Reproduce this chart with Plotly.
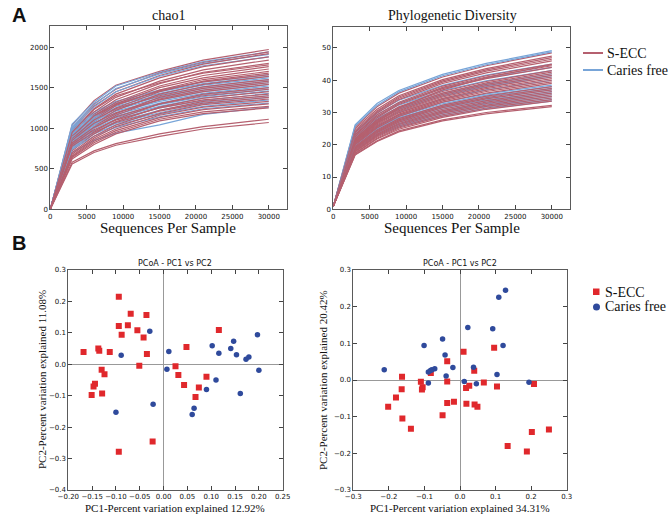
import plotly.graph_objects as go

# ---------------- data ----------------
depths = [10, 3000, 6000, 9000, 15000, 21000, 30000]

chao1_secc = [
    [5, 1040, 1340, 1530, 1700, 1840, 1970],
    [5, 1000, 1300, 1480, 1680, 1810, 1940],
    [5, 980, 1270, 1450, 1650, 1790, 1920],
    [5, 960, 1240, 1420, 1620, 1760, 1880],
    [5, 930, 1200, 1380, 1580, 1720, 1840],
    [5, 900, 1170, 1350, 1550, 1690, 1800],
    [5, 880, 1150, 1320, 1520, 1650, 1760],
    [5, 860, 1120, 1300, 1500, 1620, 1730],
    [5, 850, 1100, 1280, 1470, 1600, 1700],
    [5, 820, 1080, 1250, 1450, 1580, 1680],
    [5, 900, 1150, 1290, 1460, 1570, 1660],
    [5, 800, 1050, 1220, 1420, 1540, 1640],
    [5, 870, 1100, 1240, 1400, 1510, 1600],
    [5, 780, 1020, 1180, 1380, 1490, 1580],
    [5, 760, 1000, 1160, 1360, 1470, 1560],
    [5, 850, 1060, 1190, 1350, 1450, 1540],
    [5, 740, 960, 1110, 1300, 1420, 1500],
    [5, 820, 1010, 1140, 1300, 1400, 1480],
    [5, 720, 930, 1080, 1260, 1370, 1450],
    [5, 800, 980, 1100, 1250, 1350, 1420],
    [5, 700, 900, 1040, 1220, 1330, 1400],
    [5, 780, 950, 1070, 1210, 1310, 1380],
    [5, 680, 880, 1020, 1180, 1290, 1360],
    [5, 660, 860, 990, 1160, 1260, 1330],
    [5, 650, 840, 970, 1130, 1230, 1300],
    [5, 640, 820, 950, 1110, 1200, 1270],
    [5, 620, 800, 930, 1090, 1180, 1250],
    [5, 580, 720, 810, 930, 1020, 1110],
    [5, 560, 700, 790, 900, 990, 1070],
    [5, 950, 1230, 1400, 1560, 1680, 1780],
]
chao1_cf = [
    [5, 1050, 1320, 1520, 1690, 1820, 1940],
    [5, 1020, 1290, 1490, 1670, 1800, 1910],
    [5, 1000, 1260, 1450, 1640, 1770, 1880],
    [5, 1000, 1200, 1330, 1470, 1570, 1660],
    [5, 980, 1180, 1310, 1450, 1550, 1640],
    [5, 960, 1160, 1290, 1430, 1530, 1620],
    [5, 940, 1140, 1270, 1410, 1510, 1600],
    [5, 930, 1130, 1250, 1390, 1490, 1580],
    [5, 920, 1110, 1230, 1370, 1470, 1560],
    [5, 900, 1090, 1210, 1350, 1450, 1540],
    [5, 890, 1070, 1190, 1330, 1430, 1520],
    [5, 870, 1050, 1170, 1310, 1410, 1500],
    [5, 860, 1040, 1150, 1290, 1390, 1480],
    [5, 840, 1020, 1130, 1270, 1370, 1460],
    [5, 820, 1000, 1110, 1250, 1340, 1430],
    [5, 800, 970, 1080, 1220, 1320, 1400],
    [5, 780, 950, 1060, 1190, 1300, 1380],
    [5, 760, 930, 1040, 1170, 1270, 1350],
    [5, 740, 900, 1010, 1140, 1240, 1310],
    [5, 700, 850, 940, 1040, 1170, 1260],
]

pd_secc = [
    [1, 25.5, 31.8, 36.0, 41.0, 44.5, 48.5],
    [1, 25.0, 31.0, 35.2, 40.2, 43.6, 47.5],
    [1, 24.5, 30.5, 34.8, 39.8, 43.2, 47.0],
    [1, 24.0, 30.2, 34.4, 39.4, 42.8, 46.5],
    [1, 23.8, 29.8, 34.0, 39.0, 42.3, 46.0],
    [1, 23.2, 29.2, 33.2, 38.2, 41.4, 45.0],
    [1, 23.0, 28.8, 32.8, 37.8, 41.0, 44.5],
    [1, 22.5, 28.4, 32.5, 37.4, 40.5, 44.0],
    [1, 22.0, 27.8, 31.8, 36.5, 39.6, 43.0],
    [1, 21.8, 27.5, 31.4, 36.0, 39.2, 42.5],
    [1, 21.5, 27.2, 31.0, 35.6, 38.7, 42.0],
    [1, 21.2, 26.8, 30.6, 35.2, 38.3, 41.5],
    [1, 21.0, 26.5, 30.3, 34.8, 37.8, 41.0],
    [1, 20.8, 26.2, 29.9, 34.4, 37.4, 40.5],
    [1, 20.5, 25.8, 29.5, 34.0, 36.9, 40.0],
    [1, 20.2, 25.5, 29.2, 33.6, 36.5, 39.5],
    [1, 20.0, 25.2, 28.8, 33.2, 36.0, 39.0],
    [1, 19.5, 24.6, 28.1, 32.3, 35.1, 38.0],
    [1, 19.2, 24.3, 27.7, 31.9, 34.6, 37.5],
    [1, 19.0, 24.0, 27.4, 31.5, 34.2, 37.0],
    [1, 18.8, 23.7, 27.0, 31.0, 33.7, 36.5],
    [1, 18.5, 23.3, 26.6, 30.6, 33.2, 36.0],
    [1, 18.2, 23.0, 26.3, 30.2, 32.8, 35.5],
    [1, 18.0, 22.7, 25.9, 29.8, 32.3, 35.0],
    [1, 17.8, 22.4, 25.5, 29.3, 31.9, 34.5],
    [1, 17.5, 22.0, 25.2, 28.9, 31.4, 34.0],
    [1, 17.3, 21.8, 24.8, 28.5, 31.0, 33.5],
    [1, 17.0, 21.2, 24.3, 27.7, 30.0, 32.2],
    [1, 16.8, 21.0, 24.0, 27.4, 29.6, 31.8],
    [1, 21.0, 27.0, 31.5, 37.0, 40.8, 44.8],
]
pd_cf = [
    [1, 26.2, 32.8, 36.8, 41.8, 45.2, 49.2],
    [1, 25.8, 32.2, 36.4, 41.4, 44.8, 48.8],
    [1, 24.0, 30.0, 33.8, 38.4, 41.6, 45.0],
    [1, 23.6, 29.4, 33.0, 37.6, 40.7, 44.0],
    [1, 23.0, 28.8, 32.3, 36.8, 39.8, 43.0],
    [1, 22.6, 28.2, 31.6, 36.0, 38.9, 42.0],
    [1, 22.4, 27.8, 31.2, 35.5, 38.4, 41.5],
    [1, 22.0, 27.5, 30.9, 35.1, 38.0, 41.0],
    [1, 21.6, 26.8, 30.1, 34.2, 37.0, 40.0],
    [1, 21.0, 26.0, 29.2, 33.1, 35.8, 38.5],
    [1, 20.8, 25.7, 28.8, 32.7, 35.4, 38.0],
    [1, 20.5, 25.3, 28.4, 32.2, 34.9, 37.5],
    [1, 20.3, 25.0, 28.1, 31.8, 34.4, 37.0],
    [1, 20.0, 24.7, 27.7, 31.4, 33.9, 36.5],
    [1, 19.8, 24.4, 27.3, 31.0, 33.5, 36.0],
    [1, 19.5, 24.0, 26.9, 30.5, 33.0, 35.5],
    [1, 19.3, 23.7, 26.5, 30.1, 32.6, 35.0],
    [1, 19.0, 23.4, 26.2, 29.7, 32.1, 34.5],
    [1, 18.8, 23.1, 25.8, 29.3, 31.7, 34.0],
    [1, 18.5, 22.8, 25.5, 28.9, 31.2, 33.5],
]

# PCoA (left)
pcoa1_secc_x = [-0.168, -0.094, -0.069, -0.094, -0.075, -0.036, -0.088, -0.055, -0.042, -0.137,
                -0.135, -0.113, -0.035, -0.051, -0.130, -0.124, -0.144, -0.147, -0.151, -0.129,
                -0.094, -0.023, 0.116, 0.048, 0.025, 0.031, 0.043, 0.074, 0.067, 0.090]
pcoa1_secc_y = [0.039, 0.215, 0.161, 0.122, 0.124, 0.157, 0.094, 0.108, 0.085, 0.050,
                0.043, 0.039, 0.033, -0.005, -0.017, -0.032, -0.062, -0.071, -0.098, -0.093,
                -0.278, -0.246, 0.109, 0.055, -0.006, -0.034, -0.066, -0.074, -0.104, -0.040]
pcoa1_cf_x = [-0.029, -0.089, -0.100, -0.022, 0.011, 0.007, 0.102, 0.116, 0.147, 0.141,
              0.153, 0.173, 0.179, 0.197, 0.200, 0.110, 0.090, 0.161, 0.064, 0.060]
pcoa1_cf_y = [0.105, 0.029, -0.153, -0.127, 0.041, -0.016, 0.059, 0.035, 0.073, 0.050,
              0.030, 0.016, 0.023, 0.094, -0.019, -0.050, -0.080, -0.093, -0.140, -0.160]

# PCoA (right)
pcoa2_secc_x = [-0.163, -0.164, -0.180, -0.202, -0.162, -0.138, -0.110, -0.105, -0.107, -0.082,
                -0.036, -0.036, -0.036, -0.017, -0.049, 0.010, 0.040, 0.017, 0.026, 0.067,
                0.018, 0.041, 0.049, 0.096, 0.104, 0.208, 0.202, 0.250, 0.134, 0.188]
pcoa2_secc_y = [0.009, -0.025, -0.048, -0.073, -0.105, -0.133, -0.005, -0.020, -0.026, 0.019,
                0.051, -0.004, -0.063, -0.059, -0.096, 0.077, 0.025, -0.022, -0.016, -0.007,
                -0.065, -0.067, -0.073, 0.088, -0.018, -0.011, -0.142, -0.135, -0.180, -0.195]
pcoa2_cf_x = [-0.213, -0.101, -0.049, -0.042, -0.089, -0.083, -0.079, -0.071, -0.089, -0.039,
              -0.020, 0.022, 0.092, 0.109, 0.128, 0.121, 0.038, 0.012, 0.046, 0.104, 0.194]
pcoa2_cf_y = [0.028, 0.094, 0.112, 0.068, 0.022, 0.026, 0.028, 0.031, -0.008, 0.011,
              0.034, 0.143, 0.140, 0.226, 0.245, 0.094, 0.035, -0.004, -0.010, 0.015, -0.006]

group_names = ["S-ECC", "Caries free"]
rare_ticks_x = [0, 5000, 10000, 15000, 20000, 25000, 30000]

# ---------------- style ----------------
RED_LINE = "#b5606f"
BLUE_LINE = "#78a5d8"
RED_PT = "#e0282c"
BLUE_PT = "#2f4a9c"
SERIF = "Liberation Serif"
SANS = "DejaVu Sans"
W, H = 668, 519


def px_x(p):
    return p / W


def px_y(p):
    return 1 - p / H


fig = go.Figure()

# rarefaction curves, interleaved
for xa, ya, secc, cf in [("x", "y", chao1_secc, chao1_cf), ("x2", "y2", pd_secc, pd_cf)]:
    n = max(len(secc), len(cf))
    for i in range(n):
        if i < len(secc):
            fig.add_trace(go.Scatter(
                x=depths, y=secc[i], xaxis=xa, yaxis=ya, mode="lines",
                line=dict(color=RED_LINE, width=1.2), name=group_names[0],
                hoverinfo="skip"))
        if i < len(cf):
            fig.add_trace(go.Scatter(
                x=depths, y=cf[i], xaxis=xa, yaxis=ya, mode="lines",
                line=dict(color=BLUE_LINE, width=1.2), name=group_names[1],
                hoverinfo="skip"))

# PCoA scatter
for xa, ya, sx, sy, cx, cy in [
        ("x3", "y3", pcoa1_secc_x, pcoa1_secc_y, pcoa1_cf_x, pcoa1_cf_y),
        ("x4", "y4", pcoa2_secc_x, pcoa2_secc_y, pcoa2_cf_x, pcoa2_cf_y)]:
    fig.add_trace(go.Scatter(
        x=sx, y=sy, xaxis=xa, yaxis=ya, mode="markers", name=group_names[0],
        marker=dict(symbol="square", size=6, color=RED_PT, line=dict(width=0))))
    fig.add_trace(go.Scatter(
        x=cx, y=cy, xaxis=xa, yaxis=ya, mode="markers", name=group_names[1],
        marker=dict(symbol="circle", size=5.5, color=BLUE_PT, line=dict(width=0))))

axis_common = dict(showline=True, linecolor="#5a5a5a", linewidth=1, mirror="ticks",
                   ticks="inside", ticklen=4, tickcolor="#444444", showgrid=False,
                   tickangle=0,
                   tickfont=dict(family=SANS, size=7, color="#111111"))

fig.update_layout(
    width=W, height=H, margin=dict(l=0, r=0, t=0, b=0, autoexpand=False),
    paper_bgcolor="white", plot_bgcolor="white", showlegend=False,
    xaxis=dict(axis_common, domain=[px_x(50.3), px_x(287)], range=[0, 32500],
               tickvals=rare_ticks_x, tickformat="d", zeroline=False, anchor="y"),
    yaxis=dict(axis_common, domain=[px_y(209.3), px_y(26)], range=[0, 2260],
               dtick=500, tickformat="d", zeroline=False, anchor="x"),
    xaxis2=dict(axis_common, domain=[px_x(333.3), px_x(570)], range=[0, 32500],
                tickvals=rare_ticks_x, tickformat="d", zeroline=False, anchor="y2"),
    yaxis2=dict(axis_common, domain=[px_y(209.3), px_y(27)], range=[0, 56.5],
                dtick=10, zeroline=False, anchor="x2"),
    xaxis3=dict(axis_common, domain=[px_x(68.3), px_x(282.7)], range=[-0.2, 0.25],
                dtick=0.05, tickformat=".2f", zeroline=True, zerolinecolor="#999999",
                zerolinewidth=1, anchor="y3"),
    yaxis3=dict(axis_common, domain=[px_y(490), px_y(270)], range=[-0.4, 0.3],
                dtick=0.1, tickformat=".1f", zeroline=True, zerolinecolor="#999999",
                zerolinewidth=1, anchor="x3"),
    xaxis4=dict(axis_common, domain=[px_x(353.3), px_x(566.7)], range=[-0.3, 0.3],
                dtick=0.1, tickformat=".1f", zeroline=True, zerolinecolor="#999999",
                zerolinewidth=1, anchor="y4"),
    yaxis4=dict(axis_common, domain=[px_y(490), px_y(270)], range=[-0.3, 0.3],
                dtick=0.1, tickformat=".1f", zeroline=True, zerolinecolor="#999999",
                zerolinewidth=1, anchor="x4"),
)

ann = []


def text(x, y, s, size, family, **kw):
    ann.append(dict(x=px_x(x), y=px_y(y), xref="paper", yref="paper", text=s,
                    showarrow=False, font=dict(family=family, size=size, color="#111111"),
                    xanchor=kw.get("xanchor", "center"), yanchor="middle",
                    textangle=kw.get("angle", 0)))


text(10, 15, "<b>A</b>", 20, "Liberation Sans", xanchor="left")
text(10, 243, "<b>B</b>", 20, "Liberation Sans", xanchor="left")
text(168, 15, "chao1", 14, SERIF)
text(452, 15, "Phylogenetic Diversity", 14, SERIF)
text(168, 228, "Sequences Per Sample", 15, SERIF)
text(452, 228, "Sequences Per Sample", 15, SERIF)
text(175, 263, "PCoA - PC1 vs PC2", 8, SANS)
text(460, 263, "PCoA - PC1 vs PC2", 8, SANS)
text(175, 508, "PC1-Percent variation explained 12.92%", 11, SERIF)
text(460, 508, "PC1-Percent variation explained 34.31%", 11, SERIF)
text(42, 380, "PC2-Percent variation explained 11.08%", 11, SERIF, angle=-90)
text(323, 380, "PC2-Percent variation explained 20.42%", 11, SERIF, angle=-90)

# legends (drawn manually)
shapes = []
for yy, col, name in [(53, RED_LINE, group_names[0]), (70, BLUE_LINE, group_names[1])]:
    shapes.append(dict(type="line", xref="paper", yref="paper",
                       x0=px_x(583), x1=px_x(603), y0=px_y(yy), y1=px_y(yy),
                       line=dict(color=col, width=2)))
    text(605, yy, name, 14, SERIF, xanchor="left")
shapes.append(dict(type="rect", xref="paper", yref="paper",
                   x0=px_x(593), x1=px_x(599.5), y0=px_y(295), y1=px_y(288.5),
                   fillcolor=RED_PT, line=dict(width=0)))
text(603, 292, group_names[0], 14, SERIF, xanchor="left")
shapes.append(dict(type="circle", xref="paper", yref="paper",
                   x0=px_x(593), x1=px_x(600), y0=px_y(310.5), y1=px_y(303.5),
                   fillcolor=BLUE_PT, line=dict(width=0)))
text(603, 307, group_names[1], 14, SERIF, xanchor="left")

fig.update_layout(annotations=ann, shapes=shapes)

fig.write_html("out.html", config={"displayModeBar": False},
               post_script="document.body.style.margin='0px';")
